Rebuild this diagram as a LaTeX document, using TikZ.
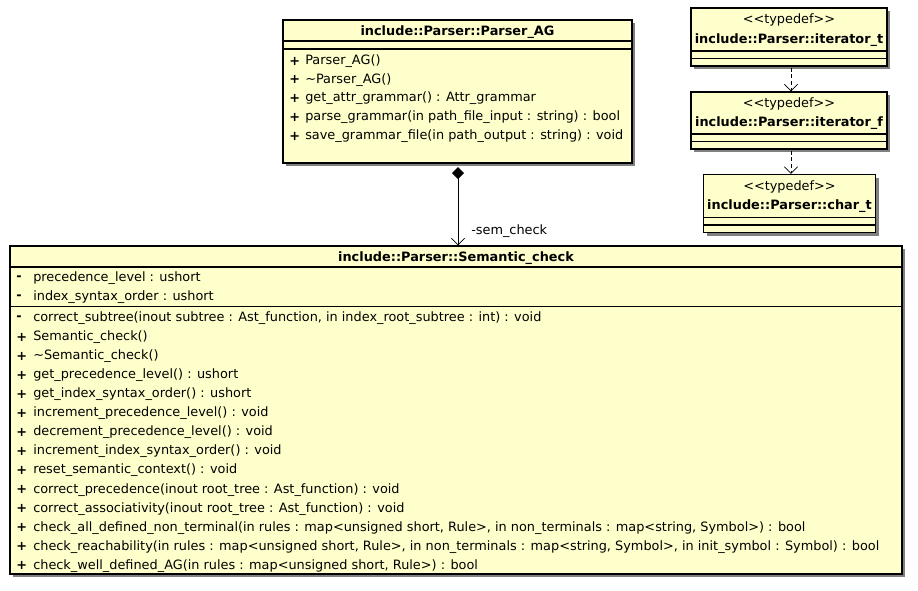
\documentclass[tikz,border=0pt]{standalone}
\usepackage{fontspec}
\setmainfont{DejaVu Sans}
\usetikzlibrary{arrows.meta,shadows,fit}
\definecolor{umlfill}{HTML}{FFFFCC}
\begin{document}
\begin{tikzpicture}[x=0.75pt,y=-0.75pt,
  classbox/.style={draw=black, line width=0.8pt, fill=umlfill, inner sep=0pt,
    drop shadow={shadow xshift=2.6pt, shadow yshift=-2.6pt, fill=black!50, opacity=1}},
  sep/.style={draw=black, line width=0.8pt},
  txt/.style={inner sep=0pt, font=\fontsize{9.65}{11}\selectfont},
  row/.style={txt, anchor=west, yshift=-0.9pt},
  vis/.style={txt, anchor=west, yshift=-0.9pt, font=\fontsize{9.65}{11}\selectfont\bfseries},
  title/.style={txt, yshift=-0.6pt, font=\fontsize{9.65}{11}\selectfont\bfseries},
  compose/.style={draw=black, line width=0.6pt,
    {Diamond[length=9pt,width=9pt,fill=black]}-{Straight Barb[length=5pt,width=10pt,line width=0.6pt]}},
  typedep/.style={draw=black, line width=0.6pt, dashed, dash pattern=on 3pt off 2pt,
    -{Straight Barb[length=5pt,width=10pt,line width=0.6pt]}},
]
\useasboundingbox (0,0) rectangle (918,590);

% ---------- class Parser_AG ----------
\node[classbox, fit={(283,20) (632,163)}] (parser) {};
\draw[sep] (283,41) -- (632,41);
\draw[sep] (283,49) -- (632,49);
\node[title] (parserName) at (457.5,31) {include::Parser::Parser\_AG};
\foreach \i/\op in {0/{Parser\_AG()},
                    1/{\textasciitilde Parser\_AG()},
                    2/{get\_attr\_grammar() : Attr\_grammar},
                    3/{parse\_grammar(in path\_file\_input : string) : bool},
                    4/{save\_grammar\_file(in path\_output : string) : void}} {
  \node[vis] (pvis\i) at (289,60+18.7*\i) {+};
  \node[row] (pop\i) at (305,60+18.7*\i) {\op};
}

% ---------- typedefs ----------
\node[classbox, fit={(691,8) (887,66)}] (itt) {};
\draw[sep] (691,51) -- (887,51);
\draw[sep] (691,58.5) -- (887,58.5);
\node[txt] (ittStereo) at (789,20) {<{}<typedef>{}>};
\node[title] (ittName) at (789,39) {include::Parser::iterator\_t};

\node[classbox, fit={(691,92) (887,149)}] (itf) {};
\draw[sep] (691,134) -- (887,134);
\draw[sep] (691,141.7) -- (887,141.7);
\node[txt] (itfStereo) at (789,103.5) {<{}<typedef>{}>};
\node[title] (itfName) at (789,122.5) {include::Parser::iterator\_f};

\node[classbox, fit={(703.5,174.5) (875.5,232.5)}] (cht) {};
\draw[sep] (703.5,217.3) -- (875.5,217.3);
\draw[sep] (703.5,225) -- (875.5,225);
\node[txt] (chtStereo) at (789.5,186.5) {<{}<typedef>{}>};
\node[title] (chtName) at (789.5,205.5) {include::Parser::char\_t};

\coordinate (depA) at (791,66);
\coordinate (depB) at (791,149.3);
\draw[typedep] (depA |- itt.south) ++(0,1) -- (depA |- itf.north);
\draw[typedep] (depB |- itf.south) ++(0,1) -- (depB |- cht.north);

% ---------- class Semantic_check ----------
\node[classbox, fit={(10,246) (902,574)}] (sem) {};
\draw[sep] (10,267) -- (902,267);
\draw[sep] (10,306.5) -- (902,306.5);
\node[title] (semName) at (456,257) {include::Parser::Semantic\_check};
\foreach \i/\v/\a in {0/-/{precedence\_level : ushort},
                      1/-/{index\_syntax\_order : ushort}} {
  \node[vis] (svis\i) at (16,277+19*\i) {\v};
  \node[row] (sattr\i) at (33,277+19*\i) {\a};
}
\foreach \i/\v/\op in {
  0/-/{correct\_subtree(inout subtree : Ast\_function, in index\_root\_subtree : int) : void},
  1/+/{Semantic\_check()},
  2/+/{\textasciitilde Semantic\_check()},
  3/+/{get\_precedence\_level() : ushort},
  4/+/{get\_index\_syntax\_order() : ushort},
  5/+/{increment\_precedence\_level() : void},
  6/+/{decrement\_precedence\_level() : void},
  7/+/{increment\_index\_syntax\_order() : void},
  8/+/{reset\_semantic\_context() : void},
  9/+/{correct\_precedence(inout root\_tree : Ast\_function) : void},
  10/+/{correct\_associativity(inout root\_tree : Ast\_function) : void},
  11/+/{check\_all\_defined\_non\_terminal(in rules : map<unsigned short, Rule>, in non\_terminals : map<string, Symbol>) : bool},
  12/+/{check\_reachability(in rules : map<unsigned short, Rule>, in non\_terminals : map<string, Symbol>, in init\_symbol : Symbol) : bool},
  13/+/{check\_well\_defined\_AG(in rules : map<unsigned short, Rule>) : bool}} {
  \node[vis] (mvis\i) at (16,317+19.05*\i) {\v};
  \node[row] (mop\i) at (33,317+19.05*\i) {\op};
}

% composition: Parser_AG owns a Semantic_check
\coordinate (compTop) at (458,167);
\draw[compose] (compTop) -- (compTop |- sem.north);
\node[txt, anchor=west] (semRole) at (471,231) {-sem\_check};
\end{tikzpicture}
\end{document}
